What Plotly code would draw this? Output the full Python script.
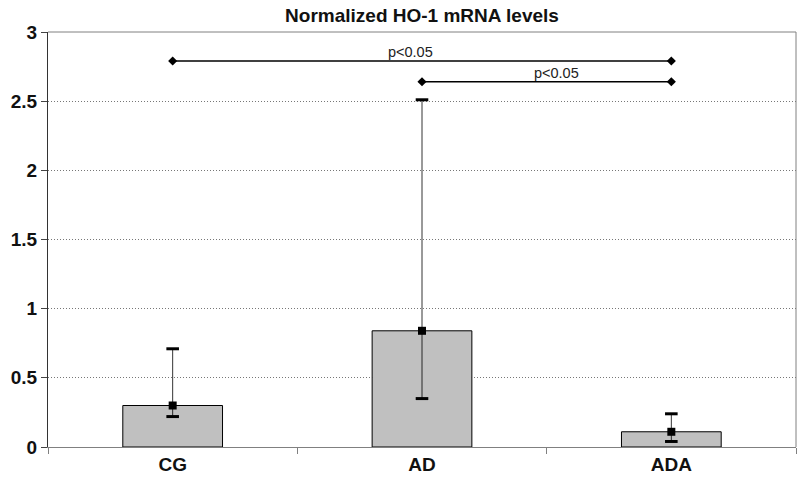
import plotly.graph_objects as go

categories = ["CG", "AD", "ADA"]
values = [0.30, 0.84, 0.11]
err_upper = [0.71, 2.51, 0.24]
err_lower = [0.22, 0.35, 0.04]

sig_pairs = [("CG", "ADA"), ("AD", "ADA")]
sig_levels = [2.79, 2.64]
sig_labels = ["p<0.05", "p<0.05"]
label_shift = [-12, 10]

FONT = "Liberation Sans, Arial, sans-serif"

fig = go.Figure()

fig.add_trace(go.Bar(
    x=categories, y=values, width=0.4,
    marker=dict(color="#c0c0c0", line=dict(color="black", width=1)),
    hoverinfo="skip", showlegend=False,
))

fig.add_trace(go.Scatter(
    x=categories, y=values, mode="markers",
    marker=dict(symbol="square", size=8, color="black"),
    error_y=dict(
        type="data", symmetric=False,
        array=[u - v for u, v in zip(err_upper, values)],
        arrayminus=[v - l for v, l in zip(values, err_lower)],
        color="black", thickness=0.8, width=0,
    ),
    showlegend=False,
))

# thick caps
fig.add_trace(go.Scatter(
    x=categories + categories, y=err_upper + err_lower, mode="markers",
    marker=dict(symbol="line-ew", size=9, line=dict(color="black", width=3)),
    showlegend=False,
))

for (a, b), lvl, lab, sh in zip(sig_pairs, sig_levels, sig_labels, label_shift):
    fig.add_trace(go.Scatter(
        x=[a, b], y=[lvl, lvl], mode="lines+markers",
        line=dict(color="black", width=1.5),
        marker=dict(symbol="diamond", size=7, color="black"),
        showlegend=False,
    ))
    ia, ib = categories.index(a), categories.index(b)
    fig.add_annotation(
        x=(ia + ib) / 2, y=lvl, text=lab, showarrow=False,
        yanchor="bottom", yshift=-1, xshift=sh,
        font=dict(family=FONT, size=14.5, color="#222"),
    )

fig.update_layout(
    width=800, height=480,
    margin=dict(l=48, r=4, t=32, b=33, autoexpand=False),
    paper_bgcolor="white", plot_bgcolor="white",
    title=dict(text="<b>Normalized HO-1 mRNA levels</b>", x=0.5, xanchor="center",
               xref="paper", y=0.968, yanchor="middle",
               font=dict(family=FONT, size=19, color="#111")),
    font=dict(family=FONT, color="#111"),
    bargap=0.6,
)

fig.update_xaxes(
    type="category", tickson="boundaries", ticks="outside", ticklen=6,
    tickcolor="#808080", showline=True, linecolor="#808080", linewidth=1,
    showgrid=False, range=[-0.5, 2.5], automargin=False,
    tickfont=dict(family=FONT, size=19, color="#111", weight="bold"),
)
fig.update_yaxes(
    range=[0, 3], dtick=0.5, ticks="outside", ticklen=6, tickcolor="#444",
    showline=True, linecolor="#333", linewidth=1,
    showgrid=True, gridcolor="#777", griddash="1px,2px", gridwidth=1,
    zeroline=False, automargin=False,
    tickfont=dict(family=FONT, size=19, color="#111", weight="bold"),
)

fig.add_shape(type="line", xref="paper", yref="paper", x0=0, x1=1, y0=1, y1=1,
              line=dict(color="#808080", width=1))
fig.add_shape(type="line", xref="paper", yref="paper", x0=1, x1=1, y0=0, y1=1,
              line=dict(color="#808080", width=1))

fig.write_html("out.html", config={"displayModeBar": False},
               post_script="document.body.style.margin='0';")
